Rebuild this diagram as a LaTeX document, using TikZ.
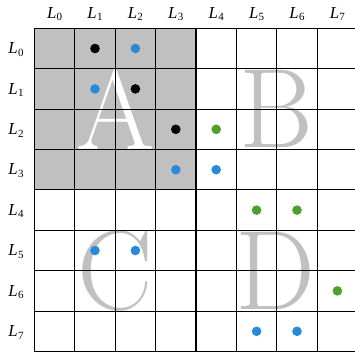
\documentclass[tikz,border=0pt]{standalone}
\usepackage{fontspec}
\newfontfamily\labfont{Liberation Serif}
\definecolor{fillgray}{RGB}{192,192,192}
\definecolor{dblue}{RGB}{40,138,216}
\definecolor{dgreen}{RGB}{76,160,44}
\tikzset{
  gridline/.style={line width=1.1pt, black},
  biglet/.style={font=\fontsize{113}{113}\selectfont, inner sep=0pt},
  lab/.style={inner sep=0pt},
  dot/.style={circle, inner sep=0pt, minimum size=9.6pt, draw=none}
}
\newcommand{\labtext}[1]{{\labfont\fontsize{16.8}{17}\selectfont\itshape L\kern0.3pt}{\labfont\fontsize{11}{11}\selectfont\raisebox{-2.6pt}{#1}}}
\begin{document}
\begin{tikzpicture}[x=1pt,y=-1pt]
\useasboundingbox (0,0) rectangle (355,356);
\clip (0,0) rectangle (355,356);
% shaded block
\fill[fillgray] (34.4,28.3) rectangle (196.0,189.9);
% big letters
\node[biglet, text=white] (A) at (115.2,109.3) {A};
\node[biglet, text=fillgray] (B) at (276.0,109.3) {B};
\node[biglet, text=fillgray] (C) at (115.2,270.8) {C};
\node[biglet, text=fillgray] (D) at (275.5,271.2) {D};
% grid
\foreach \i in {0,...,8} {
  \draw[gridline] ({34.4+\i*40.4},28.3) -- ({34.4+\i*40.4},351.5);
  \draw[gridline] (34.4,{28.3+\i*40.4}) -- ({34.4+8*40.4},{28.3+\i*40.4});
}
% labels
\foreach \j in {0,...,7} {
  \node[lab] (col\j) at ({54.6+40.4*\j},14) {\labtext{\j}};
  \node[lab] (row\j) at (16,{49.5+40.4*\j}) {\labtext{\j}};
}
% dots: (row, col, colour)
\foreach \r/\c/\col in {0/1/black, 0/2/dblue, 1/1/dblue, 1/2/black, 2/3/black, 2/4/dgreen,
  3/3/dblue, 3/4/dblue, 4/5/dgreen, 4/6/dgreen, 5/1/dblue, 5/2/dblue, 6/7/dgreen,
  7/5/dblue, 7/6/dblue} {
  \node[dot, fill=\col] (d\r\c) at ({54.6+40.4*\c},{48.5+40.4*\r}) {};
}
\end{tikzpicture}
\end{document}
